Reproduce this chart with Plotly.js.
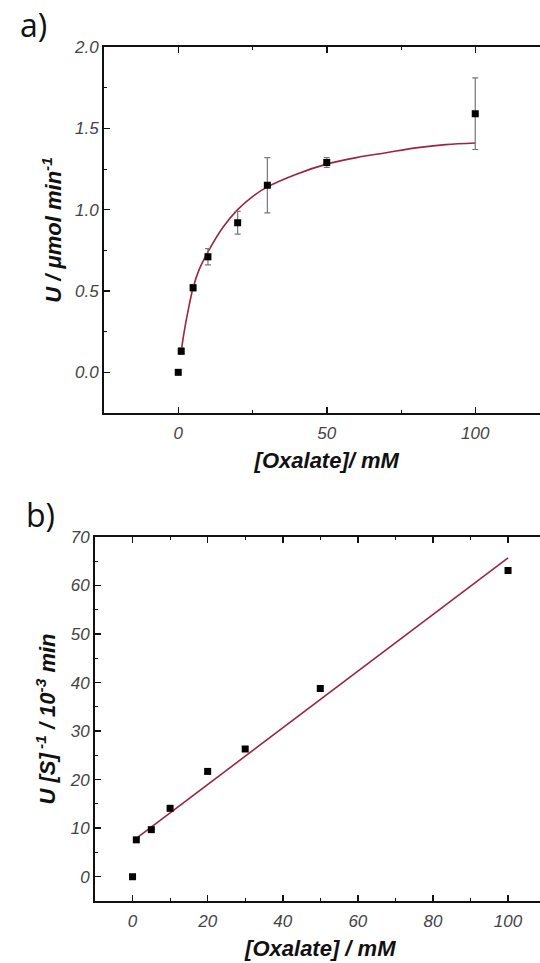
<!DOCTYPE html>
<html>
<head>
<meta charset="utf-8">
<script src="https://cdn.plot.ly/plotly-3.0.1.min.js"></script>
<style>
html,body{margin:0;padding:0;overflow:hidden;background:#fff;}
#chart{width:560px;height:963px;}
</style>
</head>
<body>
<div id="chart"></div>
<script>
// Panel a: initial rate vs oxalate
const oxalateA = [0, 1, 5, 10, 20, 30, 50, 100];
const rateA = [0.0, 0.13, 0.52, 0.71, 0.92, 1.15, 1.29, 1.59];
const rateErrA = [0.0, 0.02, 0.02, 0.05, 0.07, 0.17, 0.03, 0.22];
// fitted curve
const fitXA = [1, 2, 3, 5, 7, 10, 15, 20, 25, 30, 40, 50, 60, 70, 80, 90, 100];
const fitYA = [0.13, 0.25, 0.35, 0.52, 0.63, 0.74, 0.89, 1.0, 1.08, 1.14, 1.22, 1.28, 1.32, 1.35, 1.38, 1.40, 1.41];

// Panel b: [S]/U vs oxalate
const oxalateB = [0, 1, 5, 10, 20, 30, 50, 100];
const ratioB = [0.0, 7.6, 9.7, 14.1, 21.7, 26.3, 38.8, 63.1];
const fitXB = [1, 100];
const fitYB = [7.9, 65.7];

const W = 560, H = 963;
const tickFont = {family: 'Liberation Sans, Arial, sans-serif', size: 17, color: '#444', style: 'italic'};
const titleFont = {family: 'Liberation Sans, Arial, sans-serif', size: 22, color: '#111', weight: 'bold', style: 'italic'};

function minorTicks(dtick) {
  return {ticks: 'inside', ticklen: 3, tickwidth: 1, tickcolor: '#111', dtick: dtick, tick0: 0, showgrid: false};
}
function axisBase(extra) {
  return Object.assign({
    showline: true, linecolor: '#111', linewidth: 2, mirror: 'allticks',
    ticks: 'inside', ticklen: 6, tickwidth: 1.5, tickcolor: '#111',
    showgrid: false, zeroline: false,
    tickfont: tickFont,
    automargin: false
  }, extra);
}

const traces = [
  {x: fitXA, y: fitYA, type: 'scatter', mode: 'lines', line: {color: '#9b2540', width: 1.6, shape: 'spline', smoothing: 1}, xaxis: 'x', yaxis: 'y', hoverinfo: 'skip'},
  {x: oxalateA, y: rateA, type: 'scatter', mode: 'markers',
   marker: {symbol: 'square', size: 7, color: '#000'},
   error_y: {type: 'data', array: rateErrA, visible: true, color: '#777', thickness: 1.2, width: 3},
   xaxis: 'x', yaxis: 'y'},
  {x: fitXB, y: fitYB, type: 'scatter', mode: 'lines', line: {color: '#9b2540', width: 1.6}, xaxis: 'x2', yaxis: 'y2', hoverinfo: 'skip'},
  {x: oxalateB, y: ratioB, type: 'scatter', mode: 'markers',
   marker: {symbol: 'square', size: 7, color: '#000'}, xaxis: 'x2', yaxis: 'y2'}
];

const layout = {
  width: W, height: H,
  margin: {l: 0, r: 0, t: 0, b: 0},
  showlegend: false,
  paper_bgcolor: '#fff', plot_bgcolor: '#fff',
  xaxis: axisBase({domain: [104 / W, 549.5 / W], range: [-25, 125], tickvals: [0, 50, 100], minor: minorTicks(25),
    ticklabelstandoff: 4,
    title: {text: '[Oxalate]/ mM', font: titleFont, standoff: 10}, anchor: 'y'}),
  yaxis: axisBase({domain: [1 - 413 / H, 1 - 47 / H], range: [-0.25, 2.0], tickvals: [0, 0.5, 1.0, 1.5, 2.0], ticktext: ['0.0', '0.5', '1.0', '1.5', '2.0'],
    minor: minorTicks(0.25),
    title: {text: 'U / μmol min<sup>-1</sup>', font: titleFont, standoff: 6}, anchor: 'x'}),
  xaxis2: axisBase({domain: [95 / W, 545.6 / W], range: [-10, 110], tickvals: [0, 20, 40, 60, 80, 100],
    minor: minorTicks(10),
    ticklabelstandoff: 4,
    title: {text: '[Oxalate] / mM', font: titleFont, standoff: 10}, anchor: 'y2'}),
  yaxis2: axisBase({domain: [1 - 901 / H, 1 - 537 / H], range: [-5, 70], tickvals: [0, 10, 20, 30, 40, 50, 60, 70],
    minor: minorTicks(5),
    title: {text: 'U [S]<sup> -1</sup> / 10<sup>-3</sup> min', font: titleFont, standoff: 8}, anchor: 'x2'}),
  annotations: [
    {text: 'a)', xref: 'paper', yref: 'paper', x: 18 / W, y: 1 - 24 / H, xanchor: 'left', yanchor: 'middle', showarrow: false,
     font: {family: 'Open Sans, DejaVu Sans, sans-serif', size: 32, color: '#111'}},
    {text: 'b)', xref: 'paper', yref: 'paper', x: 24 / W, y: 1 - 514 / H, xanchor: 'left', yanchor: 'middle', showarrow: false,
     font: {family: 'Open Sans, DejaVu Sans, sans-serif', size: 32, color: '#111'}}
  ]
};

Plotly.newPlot('chart', traces, layout, {displayModeBar: false, staticPlot: true});
</script>
</body>
</html>
